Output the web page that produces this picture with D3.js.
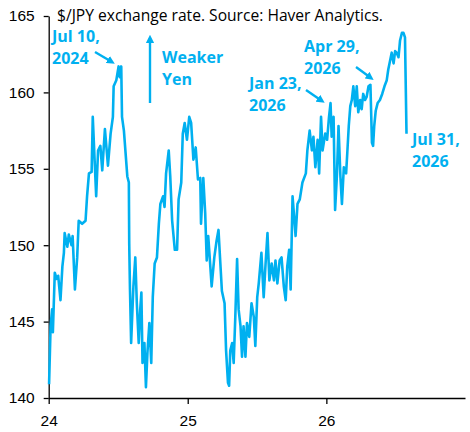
<!DOCTYPE html>
<html>
<head>
<meta charset="utf-8">
<script src="https://cdn.jsdelivr.net/npm/d3@7"></script>
<style>
    body { margin: 0; background: #fff; }
    svg { font-family: 'Open Sans', sans-serif; }
    .axis text { font-size: 15.5px; fill: #000; }
    .axis path, .axis line { stroke: #000; stroke-width: 1.3; }
    .title { font-size: 15px; fill: #000; }
    .note { fill: #00b0f0; font-weight: bold; font-size: 16px; }
</style>
</head>
<body>
<svg id="chart" width="470" height="432"></svg>
<script>
const TITLE = '$/JPY exchange rate. Source: Haver Analytics.';

const dates = [
    '2024-01-02', '2024-01-06', '2024-01-10', '2024-01-12', '2024-01-17', '2024-01-22', '2024-01-26',
    '2024-02-01', '2024-02-06', '2024-02-10', '2024-02-12', '2024-02-19', '2024-02-23',
    '2024-03-01', '2024-03-04', '2024-03-10', '2024-03-16', '2024-03-20', '2024-03-29',
    '2024-04-07', '2024-04-11', '2024-04-16', '2024-04-23', '2024-04-26',
    '2024-05-01', '2024-05-05', '2024-05-10', '2024-05-16', '2024-05-21', '2024-05-28',
    '2024-06-05', '2024-06-12', '2024-06-18', '2024-06-20', '2024-06-27',
    '2024-07-03', '2024-07-06', '2024-07-10', '2024-07-12', '2024-07-17', '2024-07-26', '2024-07-30', '2024-07-31',
    '2024-08-02', '2024-08-05', '2024-08-11', '2024-08-16', '2024-08-20', '2024-08-25', '2024-08-29',
    '2024-09-01', '2024-09-04', '2024-09-09', '2024-09-13', '2024-09-17', '2024-09-22', '2024-09-27',
    '2024-10-01', '2024-10-06', '2024-10-12', '2024-10-17', '2024-10-21', '2024-10-28',
    '2024-11-01', '2024-11-05', '2024-11-12', '2024-11-16', '2024-11-21', '2024-11-28',
    '2024-12-04', '2024-12-08', '2024-12-15', '2024-12-19', '2024-12-24', '2024-12-30',
    '2025-01-05', '2025-01-10', '2025-01-16', '2025-01-22', '2025-01-28',
    '2025-02-03', '2025-02-05', '2025-02-11', '2025-02-16', '2025-02-20', '2025-02-24',
    '2025-03-01', '2025-03-05', '2025-03-12', '2025-03-18', '2025-03-23', '2025-03-27',
    '2025-04-01', '2025-04-08', '2025-04-12', '2025-04-17', '2025-04-20', '2025-04-23', '2025-04-28',
    '2025-05-02', '2025-05-06', '2025-05-11', '2025-05-15', '2025-05-20', '2025-05-24', '2025-05-28',
    '2025-06-02', '2025-06-06', '2025-06-12', '2025-06-18', '2025-06-24', '2025-06-28',
    '2025-07-03', '2025-07-07', '2025-07-14', '2025-07-20', '2025-07-25', '2025-07-30',
    '2025-08-04', '2025-08-10', '2025-08-16', '2025-08-20', '2025-08-25', '2025-08-31',
    '2025-09-05', '2025-09-11', '2025-09-16', '2025-09-20', '2025-09-25', '2025-09-29',
    '2025-10-04', '2025-10-08', '2025-10-12', '2025-10-17', '2025-10-23', '2025-10-30',
    '2025-11-08', '2025-11-12', '2025-11-18', '2025-11-24', '2025-11-28',
    '2025-12-03', '2025-12-09', '2025-12-13', '2025-12-18', '2025-12-22', '2025-12-29',
    '2026-01-03', '2026-01-08', '2026-01-12', '2026-01-15', '2026-01-20', '2026-01-24', '2026-01-29',
    '2026-02-02', '2026-02-07', '2026-02-11', '2026-02-16', '2026-02-22', '2026-02-25',
    '2026-03-01', '2026-03-05', '2026-03-09', '2026-03-13', '2026-03-18', '2026-03-22', '2026-03-26', '2026-03-31',
    '2026-04-04', '2026-04-08', '2026-04-13', '2026-04-17', '2026-04-22', '2026-04-27',
    '2026-05-01', '2026-05-04', '2026-05-07', '2026-05-11', '2026-05-16', '2026-05-22', '2026-05-28',
    '2026-06-03', '2026-06-09', '2026-06-13', '2026-06-18', '2026-06-22', '2026-06-27',
    '2026-07-01', '2026-07-05', '2026-07-10', '2026-07-14', '2026-07-19', '2026-07-23', '2026-07-27', '2026-07-31'
];

const usdJpy = [
    140.9, 144.7, 145.8, 144.3, 148.2, 147.8, 148.0,
    146.4, 148.6, 149.5, 150.8, 149.9, 150.7,
    150.0, 150.6, 147.1, 149.2, 151.6, 151.4,
    151.6, 153.2, 154.7, 154.8, 158.4,
    155.5, 153.2, 156.2, 156.5, 154.9, 157.6,
    155.2, 157.3, 158.4, 160.4, 160.8,
    161.7, 161.0, 161.7, 158.4, 157.5, 154.5, 154.1, 150.1,
    147.1, 143.6, 147.3, 149.2, 146.2, 143.6, 145.8,
    146.9, 142.3, 143.6, 140.7, 143.0, 144.9, 142.3,
    146.6, 148.8, 149.2, 151.4, 152.7, 153.2,
    152.5, 154.7, 156.2, 154.5, 151.6, 149.7,
    149.7, 153.0, 154.1, 157.3, 158.0, 156.9,
    158.4, 158.0, 155.6, 156.4, 154.3,
    154.4, 151.4, 154.4, 152.1, 149.0, 150.6,
    148.8, 147.3, 149.2, 150.3, 151.0, 149.2,
    147.0, 146.2, 143.1, 141.0, 140.8, 143.1, 143.6,
    142.3, 145.1, 149.1, 145.8, 144.7, 142.7, 144.7,
    142.7, 144.9, 144.0, 146.2, 145.3, 143.4,
    146.6, 147.5, 149.5, 146.6, 148.8, 150.8,
    147.7, 148.8, 147.7, 149.0, 147.5, 149.0,
    149.2, 147.3, 146.4, 148.6, 149.7, 147.1,
    153.2, 151.9, 150.6, 152.7, 153.0, 154.1,
    154.7, 156.2, 157.5, 156.2, 157.1,
    155.1, 156.9, 154.7, 158.4, 156.2, 157.3,
    156.9, 158.4, 159.3, 157.1, 158.4, 152.3, 154.7,
    157.8, 154.5, 152.7, 155.1, 154.7, 156.0,
    157.8, 159.1, 159.5, 160.4, 159.1, 160.4, 158.7, 159.5,
    158.9, 159.9, 159.5, 159.7, 160.4, 160.5,
    156.7, 156.5, 157.8, 158.8, 159.3, 159.5, 159.9,
    160.4, 160.8, 161.5, 162.1, 162.6, 161.9,
    162.7, 162.6, 162.3, 163.4, 163.9, 163.9, 163.6, 157.3
];

const yTicks = [140, 145, 150, 155, 160, 165];
const xTickLabels = ['24', '25', '26'];
const xTickDates = ['2024-01-01', '2025-01-01', '2026-01-01'];

// call-out texts and where they sit on the picture
const notes = [
    { lines: ['Jul 10,', '2024'], x: 52, y: 42, arrow: [[95, 52], [112, 62]] },
    { lines: ['Weaker', 'Yen'], x: 162, y: 63, arrow: [[150, 103], [150, 38]] },
    { lines: ['Jan 23,', '2026'], x: 249, y: 89, arrow: [[306, 90], [322, 101]] },
    { lines: ['Apr 29,', '2026'], x: 304, y: 52, arrow: [[356, 67], [371, 78]] },
    { lines: ['Jul 31,', '2026'], x: 412, y: 145, arrow: null }
];

const LINE_COLOR = '#00b0f0';
const TITLE_WIDTH = 326;
const margin = { top: 16, right: 5, bottom: 34, left: 48.7 };
const width = 470;
const height = 432;

const parse = d3.timeParse('%Y-%m-%d');
const data = dates.map((d, i) => ({ date: parse(d), value: usdJpy[i] }));

const svg = d3.select('#chart');

const x = d3.scaleTime()
    .domain([parse('2024-01-01'), parse('2027-01-01')])
    .range([margin.left, width - margin.right]);

const y = d3.scaleLinear()
    .domain([140, 165])
    .range([height - margin.bottom, margin.top]);

// arrow head
svg.append('defs').append('marker')
    .attr('id', 'head')
    .attr('viewBox', '0 0 10 10')
    .attr('refX', 6)
    .attr('refY', 5)
    .attr('markerWidth', 3.4)
    .attr('markerHeight', 3.4)
    .attr('orient', 'auto')
    .append('path')
    .attr('d', 'M0,0 L10,5 L0,10 Z')
    .attr('fill', LINE_COLOR);

// axes
const xAxis = d3.axisBottom(x)
    .tickValues(xTickDates.map(parse))
    .tickFormat((d, i) => xTickLabels[i])
    .tickSize(6)
    .tickSizeOuter(0)
    .tickPadding(11);

svg.append('g')
    .attr('class', 'axis')
    .attr('transform', `translate(0, ${height - margin.bottom})`)
    .call(xAxis);

const yAxis = d3.axisLeft(y)
    .tickValues(yTicks)
    .tickSize(5)
    .tickSizeOuter(0)
    .tickPadding(9);

svg.append('g')
    .attr('class', 'axis')
    .attr('transform', `translate(${margin.left}, 0)`)
    .call(yAxis);

// the series
const line = d3.line()
    .x((d) => x(d.date))
    .y((d) => y(d.value));

svg.append('path')
    .datum(data)
    .attr('fill', 'none')
    .attr('stroke', LINE_COLOR)
    .attr('stroke-width', 2.6)
    .attr('stroke-linejoin', 'round')
    .attr('d', line);

// title, sized so it spans the same width as in the source
const title = svg.append('text')
    .attr('class', 'title')
    .attr('x', 57)
    .attr('y', 21)
    .text(TITLE);
const titleLen = title.node().getComputedTextLength();
title.style('font-size', `${15 * TITLE_WIDTH / titleLen}px`);

// call-outs
for (let note of notes) {
    const t = svg.append('text')
        .attr('class', 'note')
        .attr('x', note.x)
        .attr('y', note.y);
    note.lines.forEach((s, i) => {
        t.append('tspan')
            .attr('x', note.x)
            .attr('dy', i === 0 ? 0 : 22)
            .text(s);
    });
    if (note.arrow) {
        svg.append('path')
            .attr('d', d3.line()(note.arrow))
            .attr('stroke', LINE_COLOR)
            .attr('stroke-width', 2.4)
            .attr('fill', 'none')
            .attr('marker-end', 'url(#head)');
    }
}
</script>
</body>
</html>
